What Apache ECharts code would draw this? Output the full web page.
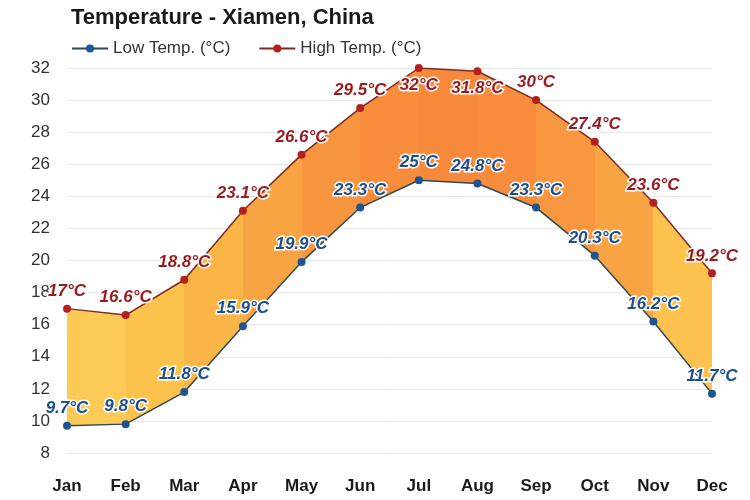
<!DOCTYPE html>
<html><head><meta charset="utf-8">
<script src="https://cdn.jsdelivr.net/npm/echarts@6/dist/echarts.min.js"></script>
<style>html,body{margin:0;padding:0;background:#fff}#c{width:750px;height:500px}</style>
</head><body><div id="c"></div>
<script>
var months = ['Jan','Feb','Mar','Apr','May','Jun','Jul','Aug','Sep','Oct','Nov','Dec'];
var lowTemps = [9.7, 9.8, 11.8, 15.9, 19.9, 23.3, 25, 24.8, 23.3, 20.3, 16.2, 11.7];
var highTemps = [17, 16.6, 18.8, 23.1, 26.6, 29.5, 32, 31.8, 30, 27.4, 23.6, 19.2];
var segmentColors = ['#FDCB55','#FCC24C','#FBB546','#F9A443','#F7963F','#F78D3B','#F78A3A','#F78C3C','#F8973F','#F9A443','#FCC24D'];
var yTicks = {min: 8, max: 32, interval: 2};

var stops = [];
var n = segmentColors.length;
segmentColors.forEach(function(c, i){
  stops.push({offset: i / n, color: c});
  stops.push({offset: (i + 1) / n, color: c});
});
var diffs = highTemps.map(function(h, i){ return +(h - lowTemps[i]).toFixed(2); });

var FF = 'Liberation Sans, Arial, sans-serif';
var labelBase = {
  show: true, fontSize: 17, fontWeight: 'bold', fontStyle: 'italic',
  fontFamily: FF,
  textBorderColor: '#fff', textBorderWidth: 3,
  formatter: function(p){ return p.value + '°C'; }
};

var chart = echarts.init(document.getElementById('c'));
chart.setOption({
  animation: false,
  title: {
    text: 'Temperature - Xiamen, China', left: 66, top: 2,
    textStyle: {fontSize: 22, fontWeight: 'bold', color: '#1a1a1a', fontFamily: FF}
  },
  legend: {
    left: 66, top: 35, itemGap: 28, itemWidth: 36, itemHeight: 10,
    textStyle: {fontSize: 17, color: '#333', fontFamily: FF},
    data: ['Low Temp. (°C)', 'High Temp. (°C)']
  },
  grid: {left: 67, right: 38, top: 68, bottom: 47},
  xAxis: {
    type: 'category', data: months, boundaryGap: false,
    axisLine: {show: false}, axisTick: {show: false},
    axisLabel: {margin: 25, fontSize: 17, fontWeight: 'bold', color: '#1a1a1a', fontFamily: FF},
    splitLine: {show: false}
  },
  yAxis: {
    type: 'value', min: yTicks.min, max: yTicks.max, interval: yTicks.interval,
    axisLine: {show: false}, axisTick: {show: false},
    axisLabel: {margin: 17, fontSize: 17, color: '#333', fontFamily: FF},
    splitLine: {lineStyle: {color: '#e8e8e8', width: 1}}
  },
  series: [
    {
      name: 'base', type: 'line', stack: 'band', data: lowTemps,
      symbol: 'none', lineStyle: {opacity: 0}, areaStyle: {opacity: 0}, silent: true, z: 1
    },
    {
      name: 'band', type: 'line', stack: 'band', data: diffs,
      symbol: 'none', lineStyle: {opacity: 0}, silent: true, z: 1,
      areaStyle: {opacity: 1, color: new echarts.graphic.LinearGradient(0, 0, 1, 0, stops)}
    },
    {
      name: 'Low Temp. (°C)', type: 'line', data: lowTemps, z: 3,
      symbol: 'circle', symbolSize: 8,
      itemStyle: {color: '#1c5494'},
      lineStyle: {color: '#2f4a55', width: 1.5},
      label: Object.assign({}, labelBase, {position: 'top', distance: 5, color: '#1c4f8c'})
    },
    {
      name: 'High Temp. (°C)', type: 'line', z: 3,
      data: highTemps.map(function(v, i){
        if (i === 6 || i === 7) return {value: v, label: {position: 'bottom'}};
        return v;
      }),
      symbol: 'circle', symbolSize: 8,
      itemStyle: {color: '#b3201f'},
      lineStyle: {color: '#7a2c22', width: 1.5},
      label: Object.assign({}, labelBase, {position: 'top', distance: 5, color: '#9a1b1f'})
    }
  ]
});
</script>
</body></html>
